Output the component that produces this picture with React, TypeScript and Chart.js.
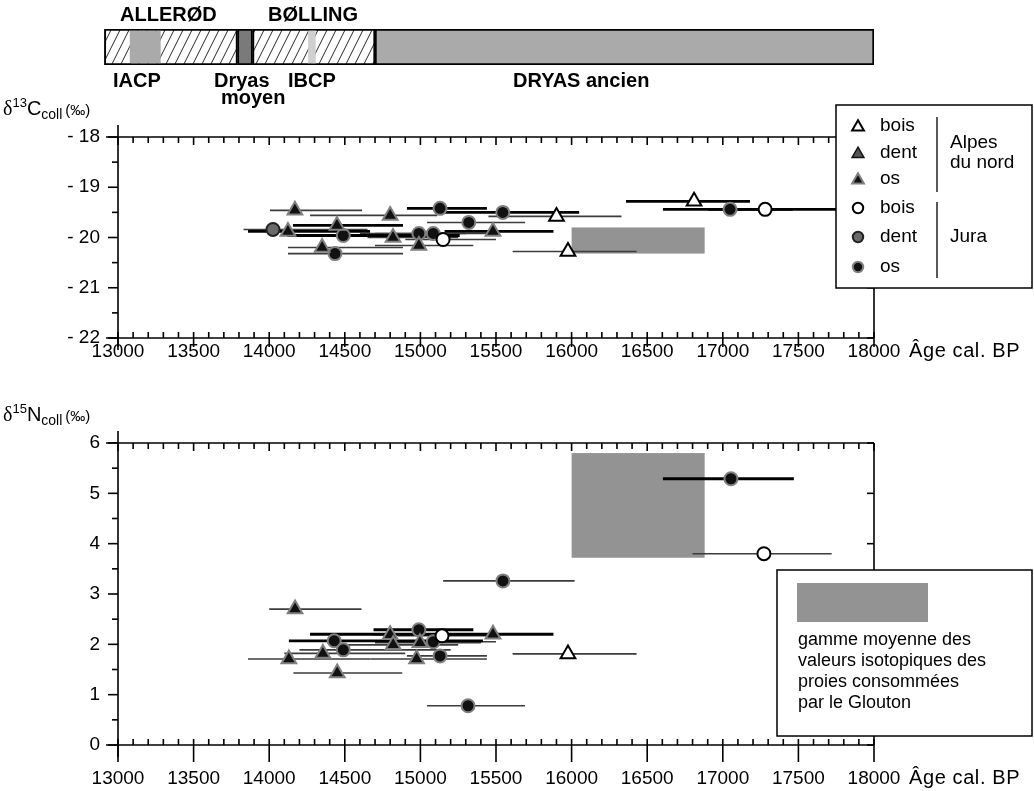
import React, { useEffect, useRef } from 'react';
import { Chart, registerables } from 'chart.js';

Chart.register(...registerables);

const FONT = "'Liberation Sans', Arial, Helvetica, sans-serif";
const SERIF = "'Liberation Serif', 'Times New Roman', serif";

// ---------------- data ----------------
const ageTicks = [13000, 13500, 14000, 14500, 15000, 15500, 16000, 16500, 17000, 17500, 18000];
const c13Ticks = [-18, -19, -20, -21, -22];
const n15Ticks = [0, 1, 2, 3, 4, 5, 6];

const periodNames = ['ALLERØD', 'IACP', 'Dryas moyen', 'BØLLING', 'IBCP', 'DRYAS ancien'];
const periodRanges = [
  [12910, 13790],
  [13080, 13280],
  [13790, 13890],
  [13890, 14700],
  [14260, 14305],
  [14700, 18000],
];

const seriesNames = ['bois', 'dent', 'os', 'bois', 'dent', 'os'];
const groupNames = ['Alpes du nord', 'Jura'];

// [age, value, ageMin, ageMax]
const c13AlpesBois = [[15900, -19.58, 15450, 16330], [15976, -20.28, 15610, 16430], [16810, -19.28, 16360, 17180]];
const c13AlpesDent: number[][] = [];
const c13AlpesOs = [
  [14170, -19.46, 14005, 14614], [14800, -19.56, 14270, 15110], [14448, -19.76, 14157, 14885],
  [14124, -19.88, 13860, 14667], [14819, -20.0, 14650, 15250], [14990, -20.16, 14700, 15350],
  [14350, -20.2, 14124, 14885], [15480, -19.88, 15160, 15880],
];
const c13JuraBois = [[15150, -20.04, 14900, 15500], [17280, -19.44, 16900, 17750]];
const c13JuraDent = [[14025, -19.84, 13830, 14650]];
const c13JuraOs = [
  [15130, -19.42, 14911, 15440], [14490, -19.96, 14120, 15260], [14990, -19.92, 14600, 15300],
  [15085, -19.92, 14700, 15500], [14435, -20.32, 14124, 14885], [15320, -19.7, 15044, 15692],
  [15545, -19.5, 15100, 16050], [17048, -19.44, 16604, 17464],
];

const n15AlpesBois = [[15976, 1.81, 15610, 16430]];
const n15AlpesDent: number[][] = [];
const n15AlpesOs = [
  [14171, 2.7, 14000, 14610], [14800, 2.19, 14690, 15215], [15480, 2.2, 14270, 15880],
  [14820, 1.99, 14500, 15250], [14997, 2.03, 14700, 15400], [14355, 1.82, 14100, 14900],
  [14130, 1.71, 13860, 14670], [14975, 1.71, 14670, 15440], [14450, 1.43, 14160, 14880],
];
const n15JuraBois = [[15143, 2.17, 14850, 15480], [17272, 3.8, 16800, 17720]];
const n15JuraDent: number[][] = [];
const n15JuraOs = [
  [15546, 3.26, 15150, 16020], [14990, 2.29, 14690, 15350], [14430, 2.07, 14130, 15414],
  [15085, 2.05, 14750, 15500], [14490, 1.89, 14200, 15200], [15130, 1.77, 14911, 15440],
  [15315, 0.78, 15044, 15692], [17054, 5.29, 16604, 17470],
];

// ages whose calibrated range is drawn with the heavy line
const heavyAgesC13 = [15130, 14124, 14448, 14490, 15480, 16810, 17048, 17280, 15545];
const heavyAgesN15 = [15480, 17054, 14430, 14990];

// prey isotopic range (wolverine prey)
const preyAgeRange = [16000, 16880];
const preyC13Range = [-20.32, -19.8];
const preyN15Range = [3.72, 5.8];

const preyLegend = ['gamme moyenne des', 'valeurs isotopiques des', 'proies consommées', 'par le Glouton'];

// ---------------- styles ----------------
const markerStyles = [
  { style: 'triangle', r: 8.5, fill: '#ffffff', stroke: '#000000', w: 2 },
  { style: 'triangle', r: 8.5, fill: '#555555', stroke: '#111111', w: 1.5 },
  { style: 'triangle', r: 8.5, fill: '#111111', stroke: '#808080', w: 2 },
  { style: 'circle', r: 6.5, fill: '#ffffff', stroke: '#000000', w: 2 },
  { style: 'circle', r: 6.5, fill: '#6a6a6a', stroke: '#222222', w: 2 },
  { style: 'circle', r: 6.5, fill: '#111111', stroke: '#808080', w: 2 },
];

function makeDatasets(series: number[][][]) {
  return series.map((pts, i) => ({
    label: seriesNames[i],
    data: pts.map(([x, y, lo, hi]) => ({ x, y, lo, hi })),
    pointStyle: markerStyles[i].style,
    pointRadius: markerStyles[i].r,
    pointHoverRadius: markerStyles[i].r,
    pointBackgroundColor: markerStyles[i].fill,
    pointBorderColor: markerStyles[i].stroke,
    pointBorderWidth: markerStyles[i].w,
    pointHoverBorderWidth: markerStyles[i].w,
    showLine: false,
  }));
}

function seg(ctx: any, x1: number, y1: number, x2: number, y2: number) {
  ctx.beginPath();
  ctx.moveTo(x1, y1);
  ctx.lineTo(x2, y2);
  ctx.stroke();
}

function drawMarker(ctx: any, i: number, x: number, y: number, scale: number) {
  const m = markerStyles[i];
  const r = m.r * scale;
  ctx.beginPath();
  if (m.style === 'triangle') {
    ctx.moveTo(x, y - r);
    ctx.lineTo(x + 0.866 * r, y + 0.5 * r);
    ctx.lineTo(x - 0.866 * r, y + 0.5 * r);
    ctx.closePath();
  } else {
    ctx.arc(x, y, r, 0, Math.PI * 2);
  }
  ctx.fillStyle = m.fill;
  ctx.fill();
  ctx.lineWidth = m.w;
  ctx.strokeStyle = m.stroke;
  ctx.stroke();
}

function makeRangePlugin(heavy: number[], boxVals: number[]) {
  return {
    id: 'ranges',
    beforeDatasetsDraw(chart: any) {
      const { ctx } = chart;
      const x = chart.scales.x;
      const y = chart.scales.y;
      ctx.save();
      const bx0 = x.getPixelForValue(preyAgeRange[0]);
      const bx1 = x.getPixelForValue(preyAgeRange[1]);
      const by0 = y.getPixelForValue(boxVals[0]);
      const by1 = y.getPixelForValue(boxVals[1]);
      ctx.fillStyle = '#939393';
      ctx.fillRect(Math.min(bx0, bx1), Math.min(by0, by1), Math.abs(bx1 - bx0), Math.abs(by1 - by0));
      const pts: any[] = [];
      chart.data.datasets.forEach((ds: any) => ds.data.forEach((p: any) => pts.push(p)));
      [false, true].forEach((pass) => {
        pts.forEach((p) => {
          const hv = heavy.includes(p.x);
          if (hv !== pass) return;
          ctx.strokeStyle = hv ? '#000000' : '#3c3c3c';
          ctx.lineWidth = hv ? 2.8 : 1.6;
          const py = y.getPixelForValue(p.y);
          seg(ctx, x.getPixelForValue(p.lo), py, x.getPixelForValue(p.hi), py);
        });
      });
      ctx.restore();
    },
  };
}

function makeFramePlugin(o: any) {
  return {
    id: 'frame',
    afterDraw(chart: any) {
      const { ctx, chartArea: a } = chart;
      const x = chart.scales.x;
      const y = chart.scales.y;
      ctx.save();
      ctx.strokeStyle = '#000';
      ctx.lineWidth = 1.6;
      seg(ctx, a.left, a.top - 12, a.left, a.bottom + 12);
      seg(ctx, a.left - 12, a.top, a.right, a.top);
      seg(ctx, a.left - 12, a.bottom, a.right, a.bottom);
      seg(ctx, a.right, a.top, a.right, a.bottom);
      for (let v = x.min; v <= x.max + 0.1; v += 100) {
        const px = x.getPixelForValue(v);
        const major = Math.round(v) % 500 === 0;
        seg(ctx, px, a.bottom - 6, px, a.bottom + (major ? o.bottomMajor : 0));
        seg(ctx, px, a.top, px, a.top + (major ? 8 : 6));
      }
      const n = Math.round((y.max - y.min) / 0.5);
      for (let k = 0; k <= n; k++) {
        const v = y.min + k * 0.5;
        const py = y.getPixelForValue(v);
        const major = k % 2 === 0;
        seg(ctx, a.left - (major ? 10 : 6), py, a.left, py);
        if (major) seg(ctx, a.right - 7, py, a.right, py);
      }
      // x axis unit
      ctx.fillStyle = '#000';
      ctx.font = `20px ${FONT}`;
      ctx.textAlign = 'left';
      ctx.textBaseline = 'middle';
      try {
        (ctx as any).letterSpacing = '0.6px';
      } catch (e) {}
      ctx.fillText('Âge cal. BP', 909, a.bottom + o.unitDy);
      try {
        (ctx as any).letterSpacing = '0px';
      } catch (e) {}
      // axis title
      ctx.textBaseline = 'alphabetic';
      let cx = 3;
      const b = a.top - 22;
      ctx.font = `20px ${SERIF}`;
      ctx.fillText('δ', cx, b);
      cx += ctx.measureText('δ').width;
      ctx.font = `13px ${FONT}`;
      ctx.fillText(o.sup, cx, b - 8);
      cx += ctx.measureText(o.sup).width;
      ctx.font = `20px ${FONT}`;
      ctx.fillText(o.letter, cx, b);
      cx += ctx.measureText(o.letter).width;
      ctx.font = `14px ${FONT}`;
      ctx.fillText('coll', cx, b + 4);
      cx += ctx.measureText('coll').width + 3;
      ctx.font = `15px ${FONT}`;
      ctx.fillText('(‰)', cx, b);
      ctx.restore();
    },
  };
}

const topLegendPlugin = {
  id: 'topLegend',
  afterDraw(chart: any) {
    const { ctx } = chart;
    const off = 88;
    ctx.save();
    ctx.fillStyle = '#fff';
    ctx.fillRect(836, 105 - off, 196, 183);
    ctx.strokeStyle = '#000';
    ctx.lineWidth = 1.5;
    ctx.strokeRect(836, 105 - off, 196, 183);
    const rows = [126, 153, 179, 208, 237, 267];
    ctx.font = `19px ${FONT}`;
    ctx.textAlign = 'left';
    ctx.textBaseline = 'middle';
    rows.forEach((ry, i) => {
      drawMarker(ctx, i, 858, ry - off + (i < 3 ? 1 : 0), 0.8);
      ctx.fillStyle = '#000';
      ctx.fillText(seriesNames[i], 880, ry - off);
    });
    ctx.lineWidth = 1.3;
    ctx.strokeStyle = '#000';
    seg(ctx, 937, 117 - off, 937, 192 - off);
    seg(ctx, 937, 202 - off, 937, 278 - off);
    ctx.fillStyle = '#000';
    const alpes = groupNames[0].split(' ');
    ctx.fillText(alpes[0], 950, 143 - off);
    ctx.fillText(alpes.slice(1).join(' '), 950, 163 - off);
    ctx.fillText(groupNames[1], 950, 237 - off);
    ctx.restore();
  },
};

const botLegendPlugin = {
  id: 'botLegend',
  afterDraw(chart: any) {
    const { ctx } = chart;
    const off = 395;
    ctx.save();
    ctx.fillStyle = '#fff';
    ctx.fillRect(777, 570 - off, 255, 166);
    ctx.strokeStyle = '#000';
    ctx.lineWidth = 1.5;
    ctx.strokeRect(777, 570 - off, 255, 166);
    ctx.fillStyle = '#939393';
    ctx.fillRect(797, 583 - off, 131, 39);
    ctx.fillStyle = '#000';
    ctx.font = `18px ${FONT}`;
    ctx.textAlign = 'left';
    ctx.textBaseline = 'middle';
    preyLegend.forEach((t, i) => ctx.fillText(t, 798, 640 + i * 21 - off));
    ctx.restore();
  },
};

const bandLabelPlugin = {
  id: 'bandLabels',
  afterDraw(chart: any) {
    const { ctx } = chart;
    ctx.save();
    ctx.fillStyle = '#000';
    ctx.font = `bold 20px ${FONT}`;
    ctx.textAlign = 'left';
    ctx.textBaseline = 'middle';
    ctx.fillText(periodNames[0], 120, 15);
    ctx.fillText(periodNames[3], 268, 15);
    ctx.fillText(periodNames[1], 113, 81);
    const dm = periodNames[2].split(' ');
    ctx.fillText(dm[0], 214, 81);
    ctx.fillText(dm[1], 221, 98);
    ctx.fillText(periodNames[4], 288, 81);
    ctx.fillText(periodNames[5], 513, 81);
    ctx.restore();
  },
};

function xScale(tickLen: number, pad: number, height: number) {
  return {
    type: 'linear',
    min: 13000,
    max: 18000,
    afterBuildTicks: (s: any) => {
      s.ticks = ageTicks.map((v) => ({ value: v }));
    },
    ticks: {
      callback: (v: any) => String(v),
      font: { family: FONT, size: 19, lineHeight: 1 },
      color: '#000',
      padding: pad,
      maxRotation: 0,
      autoSkip: false,
    },
    grid: { display: false, drawTicks: true, tickLength: tickLen },
    border: { display: false },
    afterFit: (s: any) => {
      s.height = height;
    },
  };
}

function yScale(min: number, max: number, ticks: number[], fmt: (v: number) => string) {
  return {
    type: 'linear',
    min,
    max,
    afterBuildTicks: (s: any) => {
      s.ticks = ticks.map((v) => ({ value: v }));
    },
    ticks: {
      callback: (v: any) => fmt(v),
      font: { family: FONT, size: 19, lineHeight: 1 },
      color: '#000',
      padding: 8,
      autoSkip: false,
    },
    grid: { display: false, drawTicks: true, tickLength: 10 },
    border: { display: false },
    afterFit: (s: any) => {
      s.width = 118;
    },
  };
}

export default function App() {
  const bandRef = useRef<HTMLCanvasElement>(null);
  const topRef = useRef<HTMLCanvasElement>(null);
  const botRef = useRef<HTMLCanvasElement>(null);

  useEffect(() => {
    const charts: any[] = [];

    // hatch pattern
    const pc = document.createElement('canvas');
    pc.width = 9;
    pc.height = 18;
    const g = pc.getContext('2d') as CanvasRenderingContext2D;
    g.fillStyle = '#fff';
    g.fillRect(0, 0, 9, 18);
    g.strokeStyle = '#2a2a2a';
    g.lineWidth = 1;
    g.beginPath();
    [-9, 0, 9].forEach((dx) => {
      g.moveTo(dx, 18);
      g.lineTo(dx + 9, 0);
    });
    g.stroke();
    const bctx = bandRef.current!.getContext('2d') as CanvasRenderingContext2D;
    const hatch = bctx.createPattern(pc, 'repeat');

    const bandFill = [hatch, '#aaaaaa', '#7a7a7a', hatch, '#cfcfcf', '#aaaaaa'];
    const bandBorder = [2, 0, 2, 2, 0, 2];
    const bandThick = [36, 32, 36, 36, 32, 36];
    const bandOrder = [2, 1, 2, 2, 1, 2];

    charts.push(
      new Chart(bandRef.current!, {
        type: 'bar',
        data: {
          labels: [''],
          datasets: periodRanges.map((r, i) => ({
            label: periodNames[i],
            data: [r],
            backgroundColor: bandFill[i],
            borderColor: '#000',
            borderWidth: bandBorder[i],
            borderSkipped: false,
            barThickness: bandThick[i],
            grouped: false,
            order: bandOrder[i],
          })),
        } as any,
        options: {
          indexAxis: 'y',
          responsive: false,
          animation: false,
          events: [],
          layout: { padding: { left: 118 - 0.1512 * 100, right: 160, top: 29, bottom: 45 } },
          scales: {
            x: { type: 'linear', min: 12900, max: 18000, display: false },
            y: { display: false },
          },
          plugins: { legend: { display: false }, tooltip: { enabled: false } },
        } as any,
        plugins: [bandLabelPlugin],
      })
    );

    charts.push(
      new Chart(topRef.current!, {
        type: 'scatter',
        data: {
          datasets: makeDatasets([c13AlpesBois, c13AlpesDent, c13AlpesOs, c13JuraBois, c13JuraDent, c13JuraOs]),
        } as any,
        options: {
          responsive: false,
          animation: false,
          events: [],
          layout: { padding: { left: 0, right: 160, top: 49, bottom: 0 } },
          scales: {
            x: xScale(2, 2, 35),
            y: yScale(-22, -18, c13Ticks, (v) => '- ' + Math.abs(v)),
          },
          plugins: { legend: { display: false }, tooltip: { enabled: false } },
        } as any,
        plugins: [
          makeRangePlugin(heavyAgesC13, preyC13Range),
          makeFramePlugin({ bottomMajor: 9, unitDy: 13, sup: '13', letter: 'C' }),
          topLegendPlugin,
        ],
      })
    );

    charts.push(
      new Chart(botRef.current!, {
        type: 'scatter',
        data: {
          datasets: makeDatasets([n15AlpesBois, n15AlpesDent, n15AlpesOs, n15JuraBois, n15JuraDent, n15JuraOs]),
        } as any,
        options: {
          responsive: false,
          animation: false,
          events: [],
          layout: { padding: { left: 0, right: 160, top: 48, bottom: 0 } },
          scales: {
            x: xScale(16, 8, 46),
            y: yScale(0, 6, n15Ticks, (v) => String(v)),
          },
          plugins: { legend: { display: false }, tooltip: { enabled: false } },
        } as any,
        plugins: [
          makeRangePlugin(heavyAgesN15, preyN15Range),
          makeFramePlugin({ bottomMajor: 17, unitDy: 33, sup: '15', letter: 'N' }),
          botLegendPlugin,
        ],
      })
    );

    return () => charts.forEach((c) => c.destroy());
  }, []);

  return (
    <div style={{ position: 'absolute', left: 0, top: 0, width: 1034, height: 791, background: '#fff' }}>
      <canvas ref={bandRef} width={1034} height={110} style={{ position: 'absolute', left: 0, top: 0 }} />
      <canvas ref={topRef} width={1034} height={285} style={{ position: 'absolute', left: 0, top: 88 }} />
      <canvas ref={botRef} width={1034} height={396} style={{ position: 'absolute', left: 0, top: 395 }} />
    </div>
  );
}
